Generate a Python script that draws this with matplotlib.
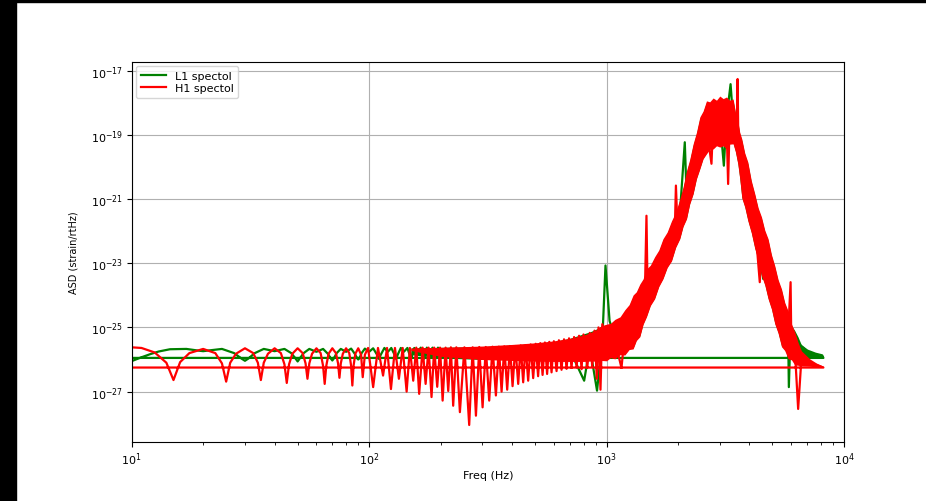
import numpy as np
import matplotlib
matplotlib.use('Agg')
import matplotlib.pyplot as plt
from matplotlib.patches import Rectangle
from matplotlib.ticker import NullLocator

# L1 trace: frequency (Hz) and log10 of the ASD (strain/rtHz)
l1_freq = [10, 11, 12, 13, 14.5, 17, 19, 20, 21, 24, 27, 29, 30, 31, 33, 36, 40, 44, 47, 49,
           50, 51, 53, 56, 60, 64, 67, 69, 70, 71, 73, 76, 80, 84, 87, 89, 90, 91, 93, 96,
           100, 104, 108, 110, 112, 116, 120, 124, 128, 130, 132, 136, 140, 145, 150, 155,
           160, 165, 170, 175, 180, 185, 190, 195, 200, 300, 500, 700, 805, 850, 912, 960,
           990, 1030, 1084, 1194, 1294, 1473, 1728, 2035, 2136, 2172, 2316, 2636, 3000,
           3120, 3200, 3330, 3413, 3573, 3938, 4213, 4570, 4792, 5113, 5456, 5818, 5860,
           5950, 6310, 7000, 7600, 8100, 8192, 8]
l1_log_asd = [-26.05, -25.93, -25.83, -25.75, -25.68, -25.67, -25.72, -25.74, -25.72, -25.67,
              -25.80, -25.97, -26.04, -25.97, -25.80, -25.67, -25.74, -25.67, -25.80, -25.97,
              -26.06, -25.97, -25.80, -25.67, -25.76, -25.67, -25.82, -25.97, -26.03, -25.97,
              -25.80, -25.67, -25.76, -25.66, -25.82, -25.96, -26.00, -25.96, -25.80, -25.66,
              -25.76, -25.65, -25.85, -25.98, -25.85, -25.64, -25.76, -25.64, -25.85, -25.98,
              -25.85, -25.64, -25.76, -25.64, -25.98, -25.64, -25.77, -25.63, -25.98, -25.63,
              -25.77, -25.63, -25.98, -25.63, -25.77, -25.80, -25.75, -25.70, -26.66, -25.60,
              -26.97, -25.40, -23.07, -24.80, -25.30, -25.10, -24.80, -23.90, -22.80, -21.50,
              -19.23, -20.80, -20.00, -18.70, -18.50, -19.96, -18.50, -17.42, -18.50, -19.20,
              -20.70, -21.60, -23.49, -23.10, -23.85, -24.55, -25.10, -26.86, -25.20, -25.46,
              -25.72, -25.82, -25.87, -25.95, -25.95]

# H1 trace
h1_freq = [10, 11, 12.5, 14, 15, 16, 17.5, 20, 22.5, 24, 25, 26, 27.5, 30, 32.5, 34, 35, 36,
           37.5, 40, 42.5, 44, 45, 46, 47.5, 50, 52.5, 54, 55, 56, 57.5, 60, 62.5, 64, 65, 66,
           67.5, 70, 72.5, 74, 75, 76, 77.5, 80, 82.5, 84, 85, 86, 87.5, 90, 92.5, 94, 96, 99,
           104, 109, 114.5, 119, 123.6, 128.5, 133.5, 138.5, 143.9, 148.5, 153.4, 158, 162.5,
           168, 173, 178, 183.2, 188, 193.6, 199, 204, 210, 215.4, 221, 226, 233, 241.2, 252,
           264, 273, 281.8, 291, 300.6, 310, 320.5, 331, 342, 352, 361.4, 371, 381.6, 392, 402,
           413, 424.6, 435, 445.6, 456, 467.7, 479, 491, 503, 515, 526, 537.8, 550, 562, 574,
           586.7, 600, 615.9, 630, 646.4, 662, 678.6, 695, 712, 730, 748, 766, 785, 800, 830,
           850, 870, 890, 910, 925, 943, 960, 1000, 1084, 1156, 1194, 1294, 1381, 1450, 1473,
           1490, 1594, 1728, 1878, 1940, 1960, 1990, 2172, 2316, 2472, 2636, 2767, 2812, 3000,
           3200, 3252, 3300, 3413, 3540, 3565, 3590, 3714, 3938, 4213, 4420, 4495, 4792, 5113,
           5456, 5818, 5960, 6000, 6207, 6413, 6622, 7178, 7656, 8192, 8]
h1_log_asd = [-25.62, -25.64, -25.78, -26.10, -26.64, -26.08, -25.80, -25.67, -25.80, -26.12,
              -26.69, -26.10, -25.82, -25.65, -25.80, -26.10, -26.64, -26.10, -25.82, -25.65,
              -25.80, -26.15, -26.73, -26.15, -25.82, -25.65, -25.80, -26.12, -26.60, -26.12,
              -25.82, -25.65, -25.80, -26.20, -26.76, -26.20, -25.82, -25.65, -25.80, -26.12,
              -26.57, -26.12, -25.82, -25.65, -25.80, -26.20, -26.81, -26.20, -25.82, -25.65,
              -25.85, -26.55, -25.85, -25.64, -26.86, -25.64, -26.50, -25.64, -26.92, -25.64,
              -26.60, -25.64, -27.00, -25.64, -26.66, -25.63, -27.07, -25.63, -26.76, -25.63,
              -27.17, -25.63, -26.85, -25.63, -27.28, -25.63, -26.98, -25.62, -27.44, -25.62,
              -27.64, -25.62, -28.04, -25.62, -27.75, -25.61, -27.49, -25.61, -27.28, -25.60,
              -27.12, -25.60, -27.00, -25.59, -26.94, -25.58, -26.83, -25.58, -26.76, -25.56,
              -26.71, -25.55, -26.66, -25.53, -26.58, -25.51, -26.52, -25.49, -26.48, -25.47,
              -26.45, -25.45, -26.40, -25.43, -26.36, -25.40, -26.32, -25.37, -26.29, -25.34,
              -26.26, -25.30, -26.24, -25.26, -26.30, -25.22, -26.25, -25.17, -26.20, -25.10,
              -26.60, -25.00, -26.94, -24.90, -25.50, -25.40, -26.26, -25.20, -24.80, -24.50,
              -24.00, -21.52, -24.00, -23.45, -22.85, -22.30, -21.90, -20.58, -21.90, -20.90,
              -20.05, -19.25, -18.75, -19.90, -18.60, -18.60, -18.60, -20.53, -18.60, -18.60,
              -18.60, -17.26, -19.20, -20.05, -20.75, -21.70, -23.59, -22.45, -23.20, -24.00,
              -24.70, -25.20, -23.59, -25.40, -25.65, -27.54, -25.95, -26.10, -26.17, -26.25,
              -26.25]

# dense part of each spectrum: upper and lower edge of the filled-in region
band_freq = [150, 200, 300, 400, 500, 600, 700, 800, 850, 900, 950, 1000, 1040, 1084, 1140,
             1194, 1245, 1294, 1335, 1381, 1425, 1473, 1530, 1594, 1660, 1728, 1800, 1878,
             1955, 2035, 2100, 2172, 2240, 2316, 2390, 2472, 2550, 2636, 2720, 2812, 2905,
             3000, 3100, 3200, 3300, 3413, 3490, 3573, 3640, 3714, 3820, 3938, 4070, 4213,
             4350, 4495, 4640, 4792, 4950, 5113, 5280, 5456, 5630, 5818, 6010, 6207, 6410,
             6622, 7178, 7656, 8192]
h1_band_hi = [-25.64, -25.62, -25.58, -25.53, -25.48, -25.42, -25.34, -25.24, -25.17, -25.08,
              -24.95, -24.90, -24.87, -24.75, -24.67, -24.45, -24.29, -23.99, -23.89, -23.65,
              -23.49, -23.18, -23.06, -22.80, -22.59, -22.24, -22.03, -21.68, -21.41, -21.00,
              -20.63, -20.12, -19.77, -19.28, -18.93, -18.44, -18.26, -17.94, -17.97, -17.85,
              -17.92, -17.79, -17.87, -17.82, -17.92, -17.88, -18.29, -18.57, -18.92, -19.13,
              -19.56, -19.85, -20.42, -20.84, -21.27, -21.56, -21.97, -22.24, -22.73, -23.08,
              -23.51, -23.80, -24.22, -24.49, -24.89, -25.14, -25.47, -25.73, -25.98, -26.11,
              -26.21]
h1_band_lo = [-25.72, -25.90, -26.00, -26.03, -26.05, -26.06, -26.06, -26.06, -26.05, -26.05,
              -26.03, -26.04, -25.94, -25.98, -25.85, -25.86, -25.69, -25.67, -25.41, -25.29,
              -24.91, -24.67, -24.32, -24.11, -23.73, -23.49, -23.14, -22.93, -22.51, -22.24,
              -21.86, -21.62, -21.16, -20.84, -20.38, -20.06, -19.75, -19.59, -19.45, -19.44,
              -19.34, -19.38, -19.34, -19.44, -19.29, -19.28, -19.53, -19.91, -20.37, -20.97,
              -21.25, -21.68, -22.05, -22.55, -22.90, -23.39, -23.68, -24.11, -24.43, -24.89,
              -25.18, -25.60, -25.72, -25.98, -26.01, -26.17, -26.18, -26.20, -26.21, -26.23,
              -26.25]
l1_band_hi = [-25.64, -25.62, -25.60, -25.55, -25.50, -25.44, -25.34, -25.20, -25.14, -25.06,
              -24.96, -24.92, -24.92, -24.80, -24.72, -24.50, -24.34, -24.04, -23.94, -23.70,
              -23.54, -23.23, -23.11, -22.85, -22.64, -22.29, -22.08, -21.73, -21.46, -21.05,
              -20.68, -20.17, -19.82, -19.33, -18.98, -18.49, -18.31, -17.99, -18.02, -17.90,
              -17.97, -17.84, -17.92, -17.87, -17.97, -17.93, -18.34, -18.62, -18.97, -19.18,
              -19.61, -19.90, -20.47, -20.89, -21.32, -21.61, -22.02, -22.29, -22.78, -23.13,
              -23.56, -23.85, -24.27, -24.54, -24.94, -25.10, -25.30, -25.55, -25.75, -25.83,
              -25.88]
l1_band_lo = [-25.85, -25.95, -26.00, -26.00, -26.00, -26.00, -26.00, -26.00, -26.00, -26.00,
              -26.00, -26.00, -25.91, -25.95, -25.82, -25.83, -25.66, -25.64, -25.38, -25.26,
              -24.88, -24.64, -24.29, -24.08, -23.70, -23.46, -23.11, -22.90, -22.48, -22.21,
              -21.83, -21.59, -21.13, -20.81, -20.35, -20.03, -19.72, -19.56, -19.42, -19.41,
              -19.31, -19.35, -19.31, -19.41, -19.26, -19.25, -19.50, -19.88, -20.34, -20.94,
              -21.22, -21.65, -22.02, -22.52, -22.87, -23.36, -23.65, -24.08, -24.40, -24.86,
              -25.15, -25.57, -25.69, -25.90, -25.85, -25.95, -25.95, -25.96, -25.96, -25.96,
              -25.95]

yticks_exp = [-27, -25, -23, -21, -19, -17]

fig = plt.figure(figsize=(9.26, 5.02), dpi=100)
ax = fig.add_axes([0.1422, 0.1169, 0.7692, 0.7582])

# L1 first, H1 on top of it
ax.fill_between(band_freq, 10 ** np.array(l1_band_lo), 10 ** np.array(l1_band_hi),
                color='g', lw=0, zorder=2)
ax.loglog(l1_freq, 10 ** np.array(l1_log_asd), color='g', lw=1.6, label='L1 spectol', zorder=2.1)
ax.fill_between(band_freq, 10 ** np.array(h1_band_lo), 10 ** np.array(h1_band_hi),
                color='r', lw=0, zorder=2.2)
ax.loglog(h1_freq, 10 ** np.array(h1_log_asd), color='r', lw=1.6, label='H1 spectol', zorder=2.3)

ax.set_xlim(10, 1e4)
ax.set_ylim(10 ** -28.58, 10 ** -16.72)
ax.set_yticks([10.0 ** e for e in yticks_exp])
ax.yaxis.set_minor_locator(NullLocator())
ax.tick_params(labelsize=8, pad=2.5)
ax.grid(True, which='major', color='#b0b0b0', lw=0.8)
ax.set_xlabel('Freq (Hz)', fontsize=8, labelpad=2)
ax.set_ylabel('ASD (strain/rtHz)', fontsize=7, labelpad=9)
ax.legend(loc='upper left', fontsize=8, labelspacing=0.25, handlelength=2.3,
          borderaxespad=0.4)

# black strips along the left and top edges
fig.patches.append(Rectangle((0, 0), 16 / 926, 1, transform=fig.transFigure,
                             color='black', zorder=10))
fig.patches.append(Rectangle((0, 1 - 2.5 / 502), 1, 2.5 / 502, transform=fig.transFigure,
                             color='black', zorder=10))

fig.savefig('out.png', dpi=100)
